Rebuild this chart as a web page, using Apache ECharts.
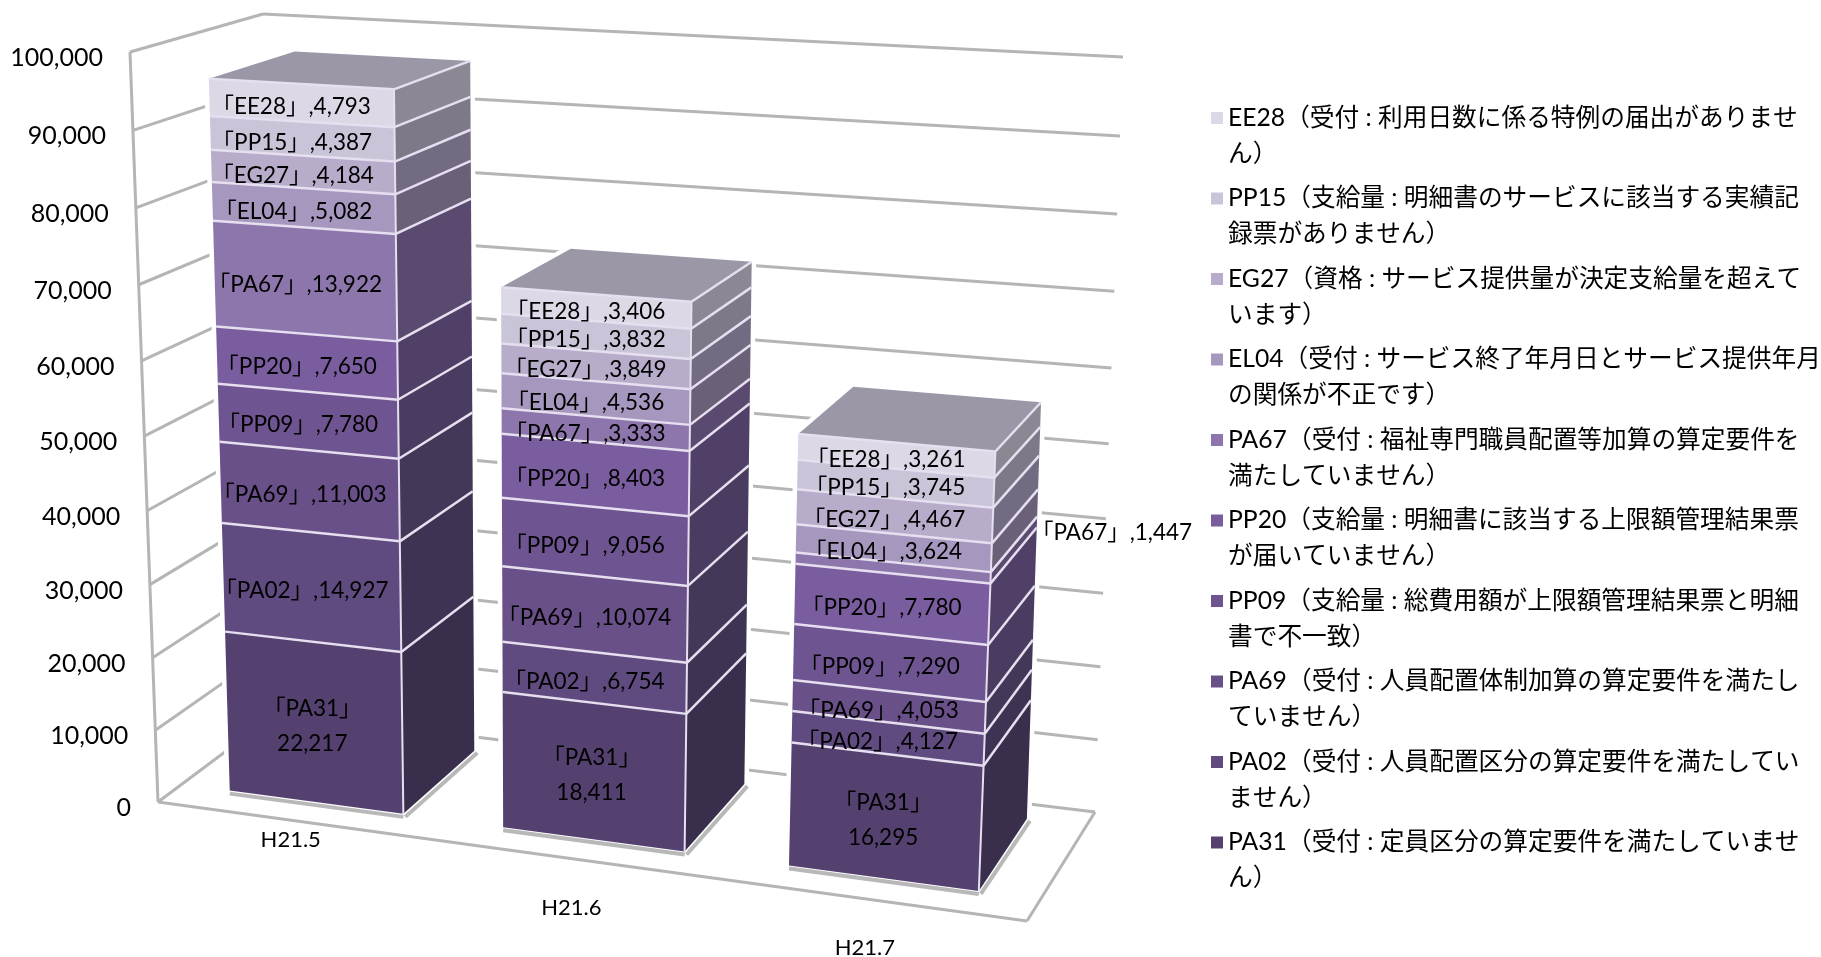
<!DOCTYPE html>
<html>
<head>
<meta charset="utf-8">
<title>H21 エラーコード</title>
<style>
	html, body { margin: 0; padding: 0; background: #fff; }
	#main { width: 1821px; height: 957px; }
</style>
<script src="https://cdn.jsdelivr.net/npm/echarts@6/dist/echarts.min.js"></script>
</head>
<body>
<div id="main"></div>
<script>
'use strict';
var categories = ['H21.5', 'H21.6', 'H21.7'];
var tickValues = [0, 10000, 20000, 30000, 40000, 50000, 60000, 70000, 80000, 90000, 100000];
var tickLabels = ['0', '10,000', '20,000', '30,000', '40,000', '50,000', '60,000', '70,000', '80,000', '90,000', '100,000'];

// bottom of the stack first
var pa31 = [22217, 18411, 16295];
var pa02 = [14927, 6754, 4127];
var pa69 = [11003, 10074, 4053];
var pp09 = [7780, 9056, 7290];
var pp20 = [7650, 8403, 7780];
var pa67 = [13922, 3333, 1447];
var el04 = [5082, 4536, 3624];
var eg27 = [4184, 3849, 4467];
var pp15 = [4387, 3832, 3745];
var ee28 = [4793, 3406, 3261];

var codes = ['PA31', 'PA02', 'PA69', 'PP09', 'PP20', 'PA67', 'EL04', 'EG27', 'PP15', 'EE28'];
var values = [pa31, pa02, pa69, pp09, pp20, pa67, el04, eg27, pp15, ee28];
var frontColors = ['#54416f', '#604b80', '#695088', '#6e5491', '#7a5d9f', '#8d76ac', '#a697bf', '#b7adcb', '#cac4d9', '#dcd8e6'];
var sideColors = ['#392e4c', '#3e3352', '#443858', '#4a3c60', '#503f66', '#5a4a70', '#6a6078', '#736b81', '#7e7989', '#8c8893'];
var legendText = {
	EE28: 'EE28（受付 : 利用日数に係る特例の届出がありませ\nん）',
	PP15: 'PP15（支給量 : 明細書のサービスに該当する実績記\n録票がありません）',
	EG27: 'EG27（資格 : サービス提供量が決定支給量を超えて\nいます）',
	EL04: 'EL04（受付 : サービス終了年月日とサービス提供年月\nの関係が不正です）',
	PA67: 'PA67（受付 : 福祉専門職員配置等加算の算定要件を\n満たしていません）',
	PP20: 'PP20（支給量 : 明細書に該当する上限額管理結果票\nが届いていません）',
	PP09: 'PP09（支給量 : 総費用額が上限額管理結果票と明細\n書で不一致）',
	PA69: 'PA69（受付 : 人員配置体制加算の算定要件を満たし\nていません）',
	PA02: 'PA02（受付 : 人員配置区分の算定要件を満たしてい\nません）',
	PA31: 'PA31（受付 : 定員区分の算定要件を満たしていませ\nん）'
};

var FONT = 'Lato, "Noto Sans CJK JP"';
var LINE = '#e6dff0';
var BAR_WIDTH = 0.64;		// share of a category
var FRONT_DEPTH = 0.2;
var BACK_DEPTH = 0.87;
var catLabelDrop = [19, 49, 49];

// corners of the 3d box on screen, the flat grid gets mapped into this
var box = {
	fbl: [158, 802], fbr: [1027, 921], bbl: [277, 713], bbr: [1095, 812],
	ftl: [130, 52], ftr: [1063, 103], btl: [263, 14], btr: [1123, 57]
};

function lerp(a, b, t) {
	return [a[0] + (b[0] - a[0]) * t, a[1] + (b[1] - a[1]) * t];
}
function project(u, v, d) {
	var uu = u / (1 + 0.07 * (1 - u));
	var vv = v / (1 + 0.05 * (1 - v));
	var bottom = lerp(lerp(box.fbl, box.fbr, uu), lerp(box.bbl, box.bbr, uu), d);
	var top = lerp(lerp(box.ftl, box.ftr, uu), lerp(box.btl, box.btr, uu), d);
	return lerp(bottom, top, vv);
}
// value -> pixel with the hidden axes, then into the box
function toBox(params, api, cat, value, offset, d) {
	var cs = params.coordSys;
	var p = api.coord([cat, value]);
	var x = p[0] + offset * api.size([1, 0])[0];
	return project((x - cs.x) / cs.width * 0.992, (cs.y + cs.height - p[1]) / cs.height, d);
}
function line(a, b, color, width) {
	return {
		type: 'line',
		shape: { x1: a[0], y1: a[1], x2: b[0], y2: b[1] },
		style: { stroke: color, lineWidth: width }
	};
}
function poly(points, fill) {
	return { type: 'polygon', shape: { points: points }, style: { fill: fill } };
}
function text(x, y, str, size, align, lineHeight) {
	return {
		type: 'text',
		z2: 100,
		style: {
			x: x, y: y, text: str, fill: '#000',
			font: size + 'px ' + FONT,
			lineHeight: lineHeight || size * 1.2,
			align: align, verticalAlign: 'middle',
			textAlign: align, textVerticalAlign: 'middle'
		}
	};
}

function renderWall(params, api) {
	var value = api.value(0);
	var i = params.dataIndex;
	var cs = params.coordSys;
	var y = api.coord([0, value])[1];
	var v = (cs.y + cs.height - y) / cs.height;
	var front = project(0, v, 0);
	var corner = project(0, v, 1);
	var end = project(1, v, 1);
	var items = [
		line(front, corner, '#b5b5b5', 3),
		line(corner, end, '#b5b5b5', 3),
		text(front[0] - 27, front[1] + 6, tickLabels[i], 25, 'right')
	];
	if (i === 0) {
		var right = project(1, 0, 0);
		items.push(line(front, right, '#b5b5b5', 3));
		items.push(line(right, end, '#b5b5b5', 3));
		items.push(line(front, project(0, 1, 0), '#b5b5b5', 3));
	}
	return { type: 'group', children: items };
}

// white halo and the grey floor shadow under each bar
function renderBase(params, api) {
	var cat = api.value(0);
	var total = api.value(1);
	var half = BAR_WIDTH / 2;
	var fl = toBox(params, api, cat, 0, -half, FRONT_DEPTH);
	var fr = toBox(params, api, cat, 0, half, FRONT_DEPTH);
	var br = toBox(params, api, cat, 0, half, BACK_DEPTH);
	var outline = [
		fl, fr, br,
		toBox(params, api, cat, total, half, BACK_DEPTH),
		toBox(params, api, cat, total, -half, BACK_DEPTH),
		toBox(params, api, cat, total, -half, FRONT_DEPTH)
	];
	var label = toBox(params, api, cat, 0, 0, 0);
	return {
		type: 'group',
		children: [
			{
				type: 'polygon',
				shape: { points: outline },
				style: { fill: '#fff', stroke: '#fff', lineWidth: 9, lineJoin: 'round' }
			},
			line([fl[0], fl[1] + 3], [fr[0], fr[1] + 3], '#b8b8b8', 4),
			line([fr[0] + 2, fr[1] + 3], [br[0] + 3, br[1] + 2], '#b8b8b8', 4),
			text(label[0] - 3, label[1] + catLabelDrop[cat], categories[cat], 22, 'center')
		]
	};
}

function renderSegment(params, api) {
	var s = params.seriesIndex - 2;
	var cat = api.value(0);
	var base = api.value(1);
	var top = api.value(2);
	var value = api.value(3);
	var half = BAR_WIDTH / 2;
	var fl0 = toBox(params, api, cat, base, -half, FRONT_DEPTH);
	var fr0 = toBox(params, api, cat, base, half, FRONT_DEPTH);
	var br0 = toBox(params, api, cat, base, half, BACK_DEPTH);
	var fl1 = toBox(params, api, cat, top, -half, FRONT_DEPTH);
	var fr1 = toBox(params, api, cat, top, half, FRONT_DEPTH);
	var br1 = toBox(params, api, cat, top, half, BACK_DEPTH);
	var items = [
		poly([fl0, fr0, fr1, fl1], frontColors[s]),
		poly([fr0, br0, br1, fr1], sideColors[s]),
		line(fr0, fr1, LINE, 2)
	];
	if (base > 0) {
		items.push(line(fl0, fr0, LINE, 2.5));
		items.push(line(fr0, br0, LINE, 2.5));
	}
	if (s === codes.length - 1) {
		var bl1 = toBox(params, api, cat, top, -half, BACK_DEPTH);
		items.push(poly([fl1, fr1, br1, bl1], '#9b97a7'));
		items.push(line(fl1, fr1, LINE, 2.5));
		items.push(line(fr1, br1, LINE, 2.5));
	}
	var mid = (base + top) / 2;
	var num = value.toLocaleString('en-US');
	var str = '「' + codes[s] + '」,' + num;
	var c = toBox(params, api, cat, mid, 0, FRONT_DEPTH);
	if (codes[s] === 'PA31') {
		items.push(text(c[0] - 2, c[1] + 4, '「' + codes[s] + '」\n' + num, 22.5, 'center', 35));
	} else if (value < 2000) {
		// too thin, the label sits outside of the bar
		var o = toBox(params, api, cat, mid, half, BACK_DEPTH);
		items.push(text(o[0] - 6, o[1] + 11, str, 22.5, 'left'));
	} else {
		items.push(text(c[0] - 10, c[1] + 4, str, 22.5, 'center'));
	}
	return { type: 'group', children: items };
}

var totals = categories.map(function (name, i) {
	return values.reduce(function (sum, arr) { return sum + arr[i]; }, 0);
});

var series = [{
	name: 'wall',
	type: 'custom',
	renderItem: renderWall,
	coordinateSystem: 'cartesian2d',
	clip: false,
	silent: true,
	encode: { y: 0 },
	data: tickValues.map(function (t) { return [t]; })
}, {
	name: 'base',
	type: 'custom',
	renderItem: renderBase,
	coordinateSystem: 'cartesian2d',
	clip: false,
	silent: true,
	encode: { x: 0, y: 1 },
	data: totals.map(function (t, i) { return [i, t]; })
}];
var running = [0, 0, 0];
codes.forEach(function (code, s) {
	series.push({
		name: code,
		type: 'custom',
		renderItem: renderSegment,
		coordinateSystem: 'cartesian2d',
		clip: false,
		itemStyle: { color: frontColors[s] },
		encode: { x: 0, y: 2 },
		data: values[s].map(function (v, i) {
			var row = [i, running[i], running[i] + v, v];
			running[i] += v;
			return row;
		})
	});
});

var myChart = echarts.init(document.getElementById('main'));
myChart.setOption({
	animation: false,
	backgroundColor: '#fff',
	grid: { left: 160, right: 800, top: 60, bottom: 60 },
	xAxis: { type: 'category', data: categories, show: false },
	yAxis: { type: 'value', min: 0, max: 100000, interval: 10000, show: false },
	legend: {
		orient: 'vertical',
		left: 1211,
		top: 64,
		padding: 0,
		icon: 'rect',
		itemWidth: 12,
		itemHeight: 12,
		itemGap: -27.5,
		selectedMode: false,
		data: codes.slice().reverse(),
		// empty first line keeps the swatch level with the first line of text
		formatter: function (name) { return ' \n' + legendText[name]; },
		textStyle: {
			fontFamily: FONT,
			fontSize: 24.7,
			lineHeight: 36,
			color: '#000'
		}
	},
	series: series
});
</script>
</body>
</html>
